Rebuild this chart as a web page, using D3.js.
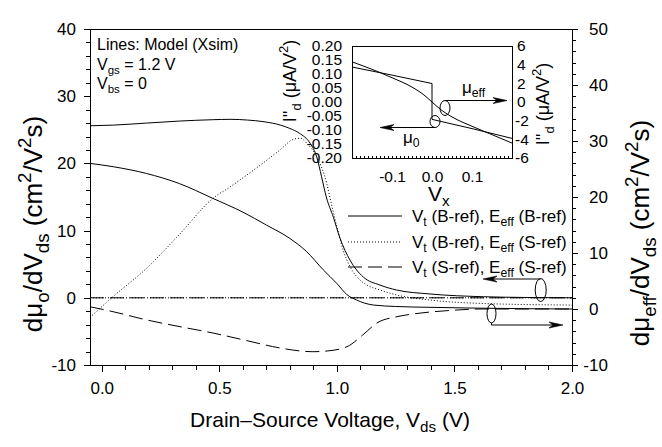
<!DOCTYPE html>
<html><head><meta charset="utf-8">
<script src="https://cdn.jsdelivr.net/npm/d3@7/dist/d3.min.js"></script>
<style>
body{margin:0;background:#fff;}
svg text{font-family:"Liberation Sans",Arial,sans-serif;fill:#000;}
</style></head><body>
<svg id="c" width="662" height="447"></svg>
<script>
// ---------- DATA ----------
const xTicks = [0.0, 0.5, 1.0, 1.5, 2.0];
const xTickLabels = ["0.0", "0.5", "1.0", "1.5", "2.0"];
const yLeftTicks = [-10, 0, 10, 20, 30, 40];
const yRightTicks = [-10, 0, 10, 20, 30, 40, 50];

// dmu0/dVds (left axis)
const vdsMu0Solid = [-0.05, 0.05, 0.19, 0.33, 0.47, 0.55, 0.62, 0.69, 0.76, 0.80, 0.84, 0.886, 0.914, 0.935, 0.955, 0.985, 1.013, 1.056, 1.112, 1.183, 1.254, 1.396, 1.623, 1.8, 2.0];
const mu0Solid    = [25.6, 25.7, 26.0, 26.3, 26.5, 26.56, 26.45, 26.2, 25.7, 25.2, 24.5, 23.0, 21.0, 18.0, 15.0, 12.0, 8.9, 5.6, 3.1, 1.9, 1.16, 0.57, 0.16, 0.05, 0.0];
const vdsZero   = [-0.05, 2.0];
const mu0Dotted = [0, 0];
const mu0Dashed = [0, 0];

// dmueff/dVds (right axis)
const vdsMueffSolid = [-0.05, 0.05, 0.19, 0.33, 0.47, 0.6, 0.7, 0.8, 0.87, 0.942, 0.999, 1.042, 1.084, 1.155, 1.25, 1.396, 1.6, 2.0];
const mueffSolid    = [26.0, 25.4, 24.2, 22.4, 19.8, 17.3, 15.0, 12.6, 10.3, 7.0, 4.6, 2.6, 1.6, 0.71, 0.45, 0.3, 0.15, 0.0];
const vdsMueffDotted = [-0.05, 0.056, 0.184, 0.33, 0.474, 0.546, 0.616, 0.687, 0.758, 0.815, 0.845, 0.872, 0.914, 0.957, 0.971, 1.0, 1.027, 1.056, 1.084, 1.127, 1.183, 1.254, 1.396, 1.609, 2.0];
const mueffDotted    = [-1.5, 2.5, 7.0, 13.3, 19.8, 21.8, 23.9, 26.1, 28.4, 30.3, 30.5, 29.6, 27.2, 22.4, 19.8, 14.7, 10.5, 7.55, 5.8, 4.3, 3.4, 2.5, 1.6, 1.0, 0.7];
const vdsMueffDashed = [-0.05, 0.048, 0.192, 0.333, 0.473, 0.618, 0.758, 0.898, 0.958, 1.043, 1.11, 1.17, 1.256, 1.324, 1.468, 1.62, 2.0];
const mueffDashed    = [0.4, -0.48, -1.96, -3.16, -4.29, -5.66, -6.96, -7.63, -7.5, -6.73, -4.64, -2.5, -1.37, -0.89, -0.3, 0.0, 0.0];

// inset
const vxStep = [-0.2, -0.1, 0.0, 0.0, 0.1, 0.2];
const idStep = [0.125, 0.096, 0.066, -0.062, -0.095, -0.13];
const vxSmooth = [-0.2, -0.15, -0.1, -0.05, -0.02, 0.0, 0.02, 0.05, 0.1, 0.15, 0.2];
const idSmooth = [4.3, 3.5, 2.6, 1.6, 0.75, 0.0, -0.75, -1.6, -2.6, -3.5, -4.4];
const insetXTicks = [-0.1, 0.0, 0.1];
const insetXTickLabels = ["-0.1", "0.0", "0.1"];
const insetYLeftTicks = [0.2, 0.15, 0.1, 0.05, 0.0, -0.05, -0.1, -0.15, -0.2];
const insetYLeftLabels = ["0.20", "0.15", "0.10", "0.05", "0.00", "-0.05", "-0.10", "-0.15", "-0.20"];
const insetYRightTicks = [6, 4, 2, 0, -2, -4, -6];

const legendLabels = [
  [["V","n"],["t","sub"],[" (B-ref), E","n"],["eff","sub"],[" (B-ref)","n"]],
  [["V","n"],["t","sub"],[" (B-ref), E","n"],["eff","sub"],[" (S-ref)","n"]],
  [["V","n"],["t","sub"],[" (S-ref), E","n"],["eff","sub"],[" (S-ref)","n"]]
];

// ---------- CHART ----------
const svg = d3.select("#c");
svg.append("rect").attr("width",662).attr("height",447).attr("fill","#fff");
const M = {l:90, r:572, t:29, b:365};
const x  = d3.scaleLinear().domain([-0.05, 2.0]).range([M.l, M.r]);
const yL = d3.scaleLinear().domain([-10, 40]).range([M.b, M.t]);
const yR = d3.scaleLinear().domain([-10, 50]).range([M.b, M.t]);
const FONT = "Liberation Sans, Arial, sans-serif";

function rich(t, parts, size) {
  let cur = 0;
  parts.forEach(([s, type]) => {
    const want = type === "sub" ? 0.25*size : (type === "sup" ? -0.42*size : 0);
    t.append("tspan").attr("dy", want - cur)
      .attr("font-size", type === "n" ? size : 0.72*size).text(s);
    cur = want;
  });
  return t;
}

svg.append("defs").append("clipPath").attr("id","pc").append("rect")
  .attr("x",M.l).attr("y",M.t).attr("width",M.r-M.l).attr("height",M.b-M.t);

const series = [
  {xs: vdsMu0Solid, ys: mu0Solid, sc: yL, dash: null},
  {xs: vdsZero, ys: mu0Dotted, sc: yL, dash: "1,2"},
  {xs: vdsZero, ys: mu0Dashed, sc: yL, dash: "14,6"},
  {xs: vdsMueffSolid, ys: mueffSolid, sc: yR, dash: null},
  {xs: vdsMueffDotted, ys: mueffDotted, sc: yR, dash: "1,2"},
  {xs: vdsMueffDashed, ys: mueffDashed, sc: yR, dash: "14,6"}
];
const gc = svg.append("g").attr("clip-path","url(#pc)");
series.forEach(s => {
  const line = d3.line().x(d => x(d[0])).y(d => s.sc(d[1])).curve(d3.curveMonotoneX);
  gc.append("path").datum(d3.zip(s.xs, s.ys)).attr("d", line)
    .attr("fill","none").attr("stroke","#000").attr("stroke-width",1)
    .attr("stroke-dasharray", s.dash);
});

// axes
function styleAxis(g){ g.select(".domain").remove(); g.attr("font-family",FONT).attr("font-size",17); g.selectAll("line").attr("stroke","#000").attr("shape-rendering","crispEdges"); }
svg.append("g").attr("transform",`translate(0,${M.b})`)
  .call(d3.axisBottom(x).tickValues(d3.range(0,21).map(i=>i/10)).tickSize(5).tickFormat(""))
  .call(styleAxis);
svg.append("g").attr("transform",`translate(0,${M.b})`)
  .call(d3.axisBottom(x).tickValues(xTicks).tickSize(7).tickPadding(10).tickFormat((d,i)=>xTickLabels[i]))
  .call(styleAxis);
svg.append("g").attr("transform",`translate(${M.l},0)`)
  .call(d3.axisLeft(yL).tickValues(d3.range(-10,41,2)).tickSize(4).tickFormat(""))
  .call(styleAxis);
svg.append("g").attr("transform",`translate(${M.l},0)`)
  .call(d3.axisLeft(yL).tickValues(yLeftTicks).tickSize(6).tickPadding(8).tickFormat(d=>d<0?"-"+(-d):String(d)))
  .call(styleAxis);
svg.append("g").attr("transform",`translate(${M.r},0)`)
  .call(d3.axisRight(yR).tickValues(d3.range(-10,51,2)).tickSize(4).tickFormat(""))
  .call(styleAxis);
const gr = svg.append("g").attr("transform",`translate(${M.r},0)`)
  .call(d3.axisRight(yR).tickValues(yRightTicks).tickSize(6).tickPadding(11).tickFormat(d=>d<0?"-"+(-d):String(d)))
  .call(styleAxis);
gr.selectAll("text").attr("dx", d => d < 0 ? -5.7 : 0);

svg.append("rect").attr("x",M.l).attr("y",M.t).attr("width",M.r-M.l).attr("height",M.b-M.t)
  .attr("fill","none").attr("stroke","#000").attr("shape-rendering","crispEdges");

// titles
rich(svg.append("text").attr("x",330).attr("y",427).attr("text-anchor","middle"),
  [["Drain\u2013Source Voltage, V","n"],["ds","sub"],[" (V)","n"]], 21);
rich(svg.append("text").attr("transform","translate(42,224) rotate(-90)").attr("text-anchor","middle"),
  [["d\u03bc","n"],["o","sub"],["/dV","n"],["ds","sub"],[" (cm","n"],["2","sup"],["/V","n"],["2","sup"],["s)","n"]], 26);
rich(svg.append("text").attr("transform","translate(649,233) rotate(-90)").attr("text-anchor","middle"),
  [["d\u03bc","n"],["eff","sub"],["/dV","n"],["ds","sub"],[" (cm","n"],["2","sup"],["/V","n"],["2","sup"],["s)","n"]], 26);

// annotations
svg.append("text").attr("x",97).attr("y",50).attr("font-size",16).text("Lines: Model (Xsim)");
rich(svg.append("text").attr("x",97).attr("y",69.5), [["V","n"],["gs","sub"],[" = 1.2 V","n"]], 16);
rich(svg.append("text").attr("x",97).attr("y",89), [["V","n"],["bs","sub"],[" = 0","n"]], 16);

// legend
const legY = [216, 242, 267], legDash = [null, "1,2", "14,6"];
legendLabels.forEach((p,i) => {
  svg.append("line").attr("x1",348).attr("x2",402).attr("y1",legY[i]).attr("y2",legY[i])
    .attr("stroke","#000").attr("stroke-dasharray",legDash[i]);
  rich(svg.append("text").attr("x",412).attr("y",legY[i]+6), p, 17);
});

function arrowH(x1, y, x2) {
  const dir = x2 > x1 ? 1 : -1;
  svg.append("line").attr("x1",x1).attr("x2",x2-dir*4).attr("y1",y).attr("y2",y).attr("stroke","#000");
  svg.append("path").attr("d",`M${x2},${y} L${x2-dir*14},${y-3} L${x2-dir*10},${y} L${x2-dir*14},${y+3} Z`)
    .attr("fill","#000").attr("stroke","#000").attr("stroke-width",0.6);
}
function ell(cx, cy, rx, ry){ svg.append("ellipse").attr("cx",cx).attr("cy",cy).attr("rx",rx).attr("ry",ry).attr("fill","none").attr("stroke","#000"); }

ell(540.7, 290, 5.5, 11.5);
arrowH(540.7, 279, 483);
ell(491.5, 313.5, 4.5, 9.5);
svg.append("line").attr("x1",491.5).attr("x2",491.5).attr("y1",323).attr("y2",325).attr("stroke","#000");
arrowH(491.5, 325, 563);

// ---------- INSET ----------
const I = {l:352, r:512, t:46, b:158};
const ix  = d3.scaleLinear().domain([-0.2, 0.2]).range([I.l, I.r]);
const iyL = d3.scaleLinear().domain([-0.2, 0.2]).range([I.b, I.t]);
const iyR = d3.scaleLinear().domain([-6, 6]).range([I.b, I.t]);
svg.append("rect").attr("x",I.l).attr("y",I.t).attr("width",I.r-I.l).attr("height",I.b-I.t)
  .attr("fill","#fff");
svg.append("path").datum(d3.zip(vxStep, idStep))
  .attr("d", d3.line().x(d=>ix(d[0])).y(d=>iyL(d[1])))
  .attr("fill","none").attr("stroke","#000");
svg.append("path").datum(d3.zip(vxSmooth, idSmooth))
  .attr("d", d3.line().x(d=>ix(d[0])).y(d=>iyR(d[1])).curve(d3.curveMonotoneX))
  .attr("fill","none").attr("stroke","#000");
svg.append("rect").attr("x",I.l).attr("y",I.t).attr("width",I.r-I.l).attr("height",I.b-I.t)
  .attr("fill","none").attr("stroke","#000").attr("shape-rendering","crispEdges");

function styleI(g){ g.select(".domain").remove(); g.attr("font-family",FONT).attr("font-size",15.5); g.selectAll("line").attr("stroke","#000").attr("shape-rendering","crispEdges"); }
svg.append("g").attr("transform",`translate(0,${I.b})`)
  .call(d3.axisTop(ix).tickValues(d3.range(-20,21).map(i=>i/100)).tickSize(2).tickFormat(""))
  .call(styleI);
svg.append("g").attr("transform",`translate(0,${I.b})`)
  .call(d3.axisBottom(ix).tickValues(insetXTicks).tickSize(0).tickPadding(13).tickFormat((d,i)=>insetXTickLabels[i]))
  .call(styleI);
svg.append("g").attr("transform",`translate(${I.l},0)`)
  .call(d3.axisLeft(iyL).tickValues(insetYLeftTicks).tickSize(0).tickPadding(10).tickFormat((d,i)=>insetYLeftLabels[i]))
  .call(styleI);
const gir = svg.append("g").attr("transform",`translate(${I.r},0)`)
  .call(d3.axisRight(iyR).tickValues(insetYRightTicks).tickSize(0).tickPadding(5).tickFormat(d=>d<0?"-"+(-d):String(d)))
  .call(styleI);
gir.selectAll("text").attr("dx", d => d < 0 ? -2 : 0);

rich(svg.append("text").attr("x",428).attr("y",201), [["V","n"],["x","sub"]], 21);
rich(svg.append("text").attr("transform","translate(296,81) rotate(-90)").attr("text-anchor","middle"),
  [["I''","n"],["d","sub"],[" (\u03bcA/V","n"],["2","sup"],[")","n"]], 18);
rich(svg.append("text").attr("transform","translate(549,104) rotate(-90)").attr("text-anchor","middle"),
  [["I''","n"],["d","sub"],[" (\u03bcA/V","n"],["2","sup"],[")","n"]], 18);

ell(445, 108, 5, 7.5);
arrowH(445, 100.5, 507);
ell(435, 121.5, 5, 6);
arrowH(435, 127.5, 380);
rich(svg.append("text").attr("x",462).attr("y",93), [["\u03bc","n"],["eff","sub"]], 17);
rich(svg.append("text").attr("x",403).attr("y",143), [["\u03bc","n"],["0","sub"]], 17);
</script>
</body></html>
